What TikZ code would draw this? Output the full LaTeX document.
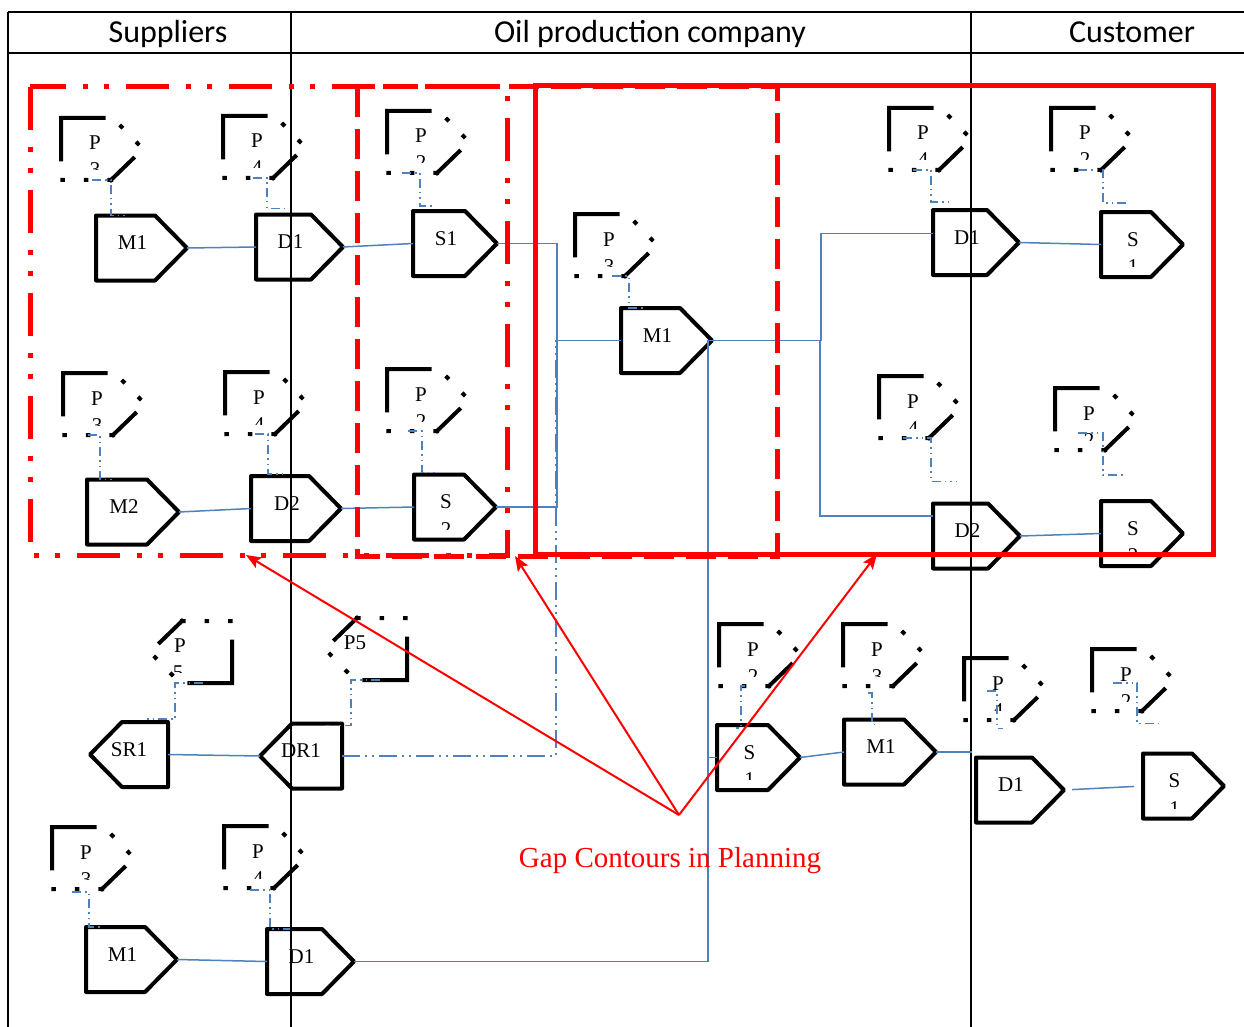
\documentclass[tikz,border=0pt]{standalone}
\usepackage{fontspec}
\setmainfont{Liberation Serif}
\newfontfamily\headfont{Carlito}
\usetikzlibrary{arrows.meta}
\definecolor{linkblue}{RGB}{79,129,189}
% digit of a tag whose lower part is cut off
\newcommand\cutdigit[1]{\tikz[baseline=0pt]{\clip (-8pt,7pt) rectangle (8pt,15pt);
  \node[inner sep=0pt, anchor=base] (cutglyph) at (0pt,0pt) {#1};}}

\begin{document}
\begin{tikzpicture}[x=1pt, y=-1pt,
    rule/.style={line width=1.5pt},
    headtext/.style={anchor=base, inner sep=0, font=\headfont\fontsize{32}{38}\selectfont},
    pent/.style={minimum width=#1, minimum height=65, inner sep=0, outer sep=0, text depth=10pt,
                 font=\fontsize{21}{27}\selectfont, execute at end node=\hspace*{18pt}},
    pent/.default=87,
    pentback/.style={minimum width=#1, minimum height=65, inner sep=0, outer sep=0, text depth=10pt,
                 font=\fontsize{21}{27}\selectfont},
    plate/.style={line width=4pt, line join=round},
    pedge/.style={line width=4pt, line cap=rect, dash phase=4pt,
                  dash pattern=on 35pt off 21pt on 0.5pt off 23pt on 0.5pt off 21pt on 84pt off 22pt on 0.5pt off 23pt on 0.5pt off 23pt},
    pbox/.style={minimum width=82, minimum height=62, inner sep=0, outer sep=0},
    ptag/.style={anchor=base, inner sep=0, font=\fontsize{21}{27}\selectfont},
    flow/.style={linkblue, line width=1.5pt},
    plink/.style={linkblue, line width=1.3pt, dash pattern=on 9pt off 4pt on 1.5pt off 4pt on 1.5pt off 4pt},
    loopback/.style={linkblue, line width=1.5pt, dash pattern=on 18pt off 5pt on 2pt off 5pt on 2pt off 5pt},
    gapA/.style={red, line width=5pt, dash pattern=on 43pt off 17pt on 5pt off 16pt on 5pt off 17pt},
    gapB/.style={red, line width=5pt, dash pattern=on 30pt off 12pt},
    gapC/.style={red, line width=5pt},
    gaparr/.style={red, line width=2pt, -{Stealth[length=15pt, width=12pt, inset=3pt]}},
    plan/.pic={
      \draw[pedge] (50,62) -- (82,31) -- (52,0) -- (0,0) -- (0,62) -- cycle;
      \node[pbox] (-b) at (41,31) {};
      \node[ptag] (-p) at (34,32) {P};
      \node[ptag] (-n) at (34,59) {\cutdigit{#1}};
    },
    planback/.pic={
      \draw[pedge] (32,0) -- (0,31) -- (30,62) -- (82,62) -- (82,0) -- cycle;
      \node[pbox] (-b) at (41,31) {};
      \node[ptag] (-p) at (30,31) {#1};
    }]
  \useasboundingbox (0,0) rectangle (1244,1027);

  % table frame and column heads
  \draw[rule, line width=2pt] (8,12) -- (1244,12);
  \draw[rule] (8,53) -- (1244,53);
  \foreach \x in {8,291,971}
    \draw[rule] (\x,12) -- (\x,1027);
  \node[headtext] (hsup) at (168,43) {Suppliers};
  \node[headtext] (hoil) at (650,43) {Oil production company};
  \node[headtext] (hcus) at (1132,43) {Customer};

  % process plates
  \node[pent=91] (m1a) at (141.5,248) {M1};
  \node[pent]    (d1a) at (299.5,247) {D1};
  \node[pent=84] (s1a) at (455,243.5) {S1};
  \node[pent=92] (m2)  at (133,512)   {M2};
  \node[pent=90] (d2a) at (296,508.5) {D2};
  \node[pent=82] (s2a) at (455,507)   {S};
  \node[pent=91] (m1c) at (666.5,340.5) {M1};
  \node[pent=86] (d1r) at (976,242.5) {D1};
  \node[pent=82] (s1r) at (1142,244.5) {S};
  \node[pent]    (d2r) at (976.5,536) {D2};
  \node[pent=82] (s2r) at (1142,533.5) {S};
  \node[pent=83] (s1b) at (758.5,757.5) {S};
  \node[pent=92] (m1b) at (890,752)   {M1};
  \node[pent=88] (d1c) at (1020,790)  {D1};
  \node[pent=81] (s1c) at (1183.5,786) {S};
  \node[pent=91] (m1d) at (131.5,959.5) {M1};
  \node[pent]    (d1d) at (310.5,961.5) {D1};
  \node[pentback=78] (sr1) at (129,754.5) {SR1};
  \node[pentback=82] (dr1) at (301,756) {DR1};
  \foreach \n in {m1a,d1a,s1a,m2,d2a,s2a,m1c,d1r,s1r,d2r,s2r,s1b,m1b,d1c,s1c,m1d,d1d}
    \draw[plate] (\n.north west) -- ([xshift=-32pt]\n.north east) -- (\n.east)
      -- ([xshift=-32pt]\n.south east) -- (\n.south west) -- cycle;
  \foreach \n in {sr1,dr1}
    \draw[plate] (\n.north east) -- ([xshift=32pt]\n.north west) -- (\n.west)
      -- ([xshift=32pt]\n.south west) -- (\n.south east) -- cycle;
  % second line of the S tags
  \foreach \n/\d in {s2a/2,s1r/1,s2r/2,s1b/1,s1c/1}
    \node[ptag] (\n-n) at ([shift={(-9,29)}]\n.center) {\cutdigit{\d}};

  % planning blocks
  \pic (pma)  at (61,118)  {plan=3};
  \pic (pda)  at (223,116) {plan=4};
  \pic (psa)  at (387,111) {plan=2};
  \pic (pmb)  at (63,373)  {plan=3};
  \pic (pdb)  at (225,372) {plan=4};
  \pic (psb)  at (387,369) {plan=2};
  \pic (pmc)  at (575,214) {plan=3};
  \pic (pdr)  at (889,108) {plan=4};
  \pic (psr)  at (1051,108) {plan=2};
  \pic (pdr2) at (879,376) {plan=4};
  \pic (psr2) at (1055,388) {plan=2};
  \pic (psb1) at (719,624) {plan=2};
  \pic (pmb1) at (843,624) {plan=3};
  \pic (pdc)  at (964,658) {plan=4};
  \pic (psc)  at (1092,649) {plan=2};
  \pic (pmd)  at (52,827)  {plan=3};
  \pic (pdd)  at (224,826) {plan=4};
  \pic (pr1)  at (150,621) {planback=P};
  \pic (pr2)  at (325,618) {planback=P5};
  \node[ptag] (pr1-n) at ([shift={(28,58)}]pr1-b.north west) {\cutdigit{5}};

  % planning links
  \draw[plink] ([xshift=-10pt]pma-b.south) -| ([xshift=15pt]m1a.north west) -- ++(14,0);
  \draw[plink] ([xshift=-11pt]pda-b.south) -| ([xshift=11pt,yshift=6pt]d1a.north west) -- ++(20,0);
  \draw[plink] ([xshift=-26pt]psa-b.south) -| ([xshift=7pt,yshift=5pt]s1a.north west) -- ++(13,0);
  \draw[plink] ([xshift=-16pt]pmb-b.south) -| ([xshift=13pt]m2.north west) -- ++(12,0);
  \draw[plink] ([xshift=-11pt]pdb-b.south) -| ([xshift=17pt,yshift=2pt]d2a.north west) -- ++(17,0);
  \draw[plink] ([xshift=-20pt]psb-b.south) -| ([xshift=8pt,yshift=2pt]s2a.north west) -- ++(16,0);
  \draw[plink] ([xshift=-4pt]pmc-b.south) -| ([xshift=8pt]m1c.north west) -- ++(14,0);
  \draw[plink] ([xshift=-17pt]pdr-b.south) -| ([xshift=-2pt,yshift=8pt]d1r.north west) -- ++(19,0);
  \draw[plink] ([xshift=-14pt]psr-b.south) -| ([xshift=2pt,yshift=9pt]s1r.north west) -- ++(25,0);
  \draw[plink] ([xshift=-17pt]pdr2-b.south) -| ([xshift=-2pt,yshift=22pt]d2r.north west) -- ++(26,0);
  \draw[plink] ([xshift=-18pt,yshift=17pt]psr2-b.south) -| ([xshift=2pt,yshift=26pt]s2r.north west) -- ++(22,0);
  \draw[plink] ([xshift=12pt]pr1-b.south) -| ([xshift=7pt,yshift=3pt]sr1.north east) -- ++(-30,0);
  \draw[plink] ([xshift=14pt]pr2-b.south) -| ([xshift=9pt,yshift=-2pt]dr1.north east) -- ++(-26,0);
  \draw[plink] ([xshift=-15pt]psb1-b.south) -| ([xshift=24pt,yshift=-3pt]s1b.north west) -- ++(-5,0);
  \draw[plink] ([xshift=-16pt,yshift=-7pt]pmb1-b.south) -| ([xshift=28pt,yshift=-5pt]m1b.north west) -- ++(5,0);
  \draw[plink] ([xshift=-18pt,yshift=29pt]pdc-b.south) -| ([xshift=21pt,yshift=29pt]d1c.north west) -- ++(6,0);
  \draw[plink] ([xshift=-20pt,yshift=28pt]psc-b.south) -| ([xshift=-6pt,yshift=30pt]s1c.north west) -- ++(23,0);
  \draw[plink] ([xshift=-21pt,yshift=-3pt]pmd-b.south) -| ([xshift=3pt]m1d.north west) -- ++(14,0);
  \draw[plink] ([xshift=-15pt,yshift=-2pt]pdd-b.south) -| ([xshift=3pt]d1d.north west) -- ++(20,0);

  % material flow
  \draw[flow] (m1a.east) -- (d1a.west);
  \draw[flow] (d1a.east) -- (s1a.west);
  \draw[flow] (m2.east) -- (d2a.west);
  \draw[flow] (d2a.east) -- (s2a.west);
  \draw[flow] (s1a.east) -| ([xshift=-64pt]m1c.west) -- (m1c.west);
  \draw[flow] (s2a.east) -| ([xshift=-64pt]m1c.west) -- (m1c.west);
  \draw[flow] (m1c.east) -- ++(109,0) |- ([yshift=9pt]d1r.west);
  \draw[flow] (m1c.east) -- ++(108,0) |- ([yshift=20pt]d2r.west);
  \draw[flow] (d1d.east) -| ([xshift=-4pt]m1c.east) -- (m1c.east);
  \draw[flow] (s1b.west) -- ++(-9,0);
  \draw[flow] (s1b.east) -- (m1b.west);
  \draw[flow] (m1b.east) -- ++(36,0);
  \draw[flow] (d1r.east) -- (s1r.west);
  \draw[flow] (d2r.east) -- (s2r.west);
  \draw[flow, shorten <=8pt, shorten >=9pt] (d1c.east) -- (s1c.west);
  \draw[flow] (sr1.east) -- (dr1.west);
  \draw[flow] (m1d.east) -- (d1d.west);
  \draw[loopback] (dr1.east) -| ([xshift=-65pt]m1c.west) -- (m1c.west);

  % gap contours
  \draw[gapA] (30,87) rectangle (507,555) coordinate (ga);
  \draw[gapB] (357,87) rectangle (777,556) coordinate (gb);
  \draw[gapC] (535,86) rectangle (1213,554) coordinate (gc);
  \node[anchor=base, inner sep=0, text=red, font=\fontsize{29}{34}\selectfont] (gaptext) at (670,867)
    {Gap Contours in Planning};
  \coordinate (fork) at ([shift={(9,-52)}]gaptext.base);
  \foreach \c/\dx in {ga/-261,gb/-262,gc/-336}
    \draw[gaparr] (fork) -- ([xshift=\dx pt]\c);
\end{tikzpicture}
\end{document}
